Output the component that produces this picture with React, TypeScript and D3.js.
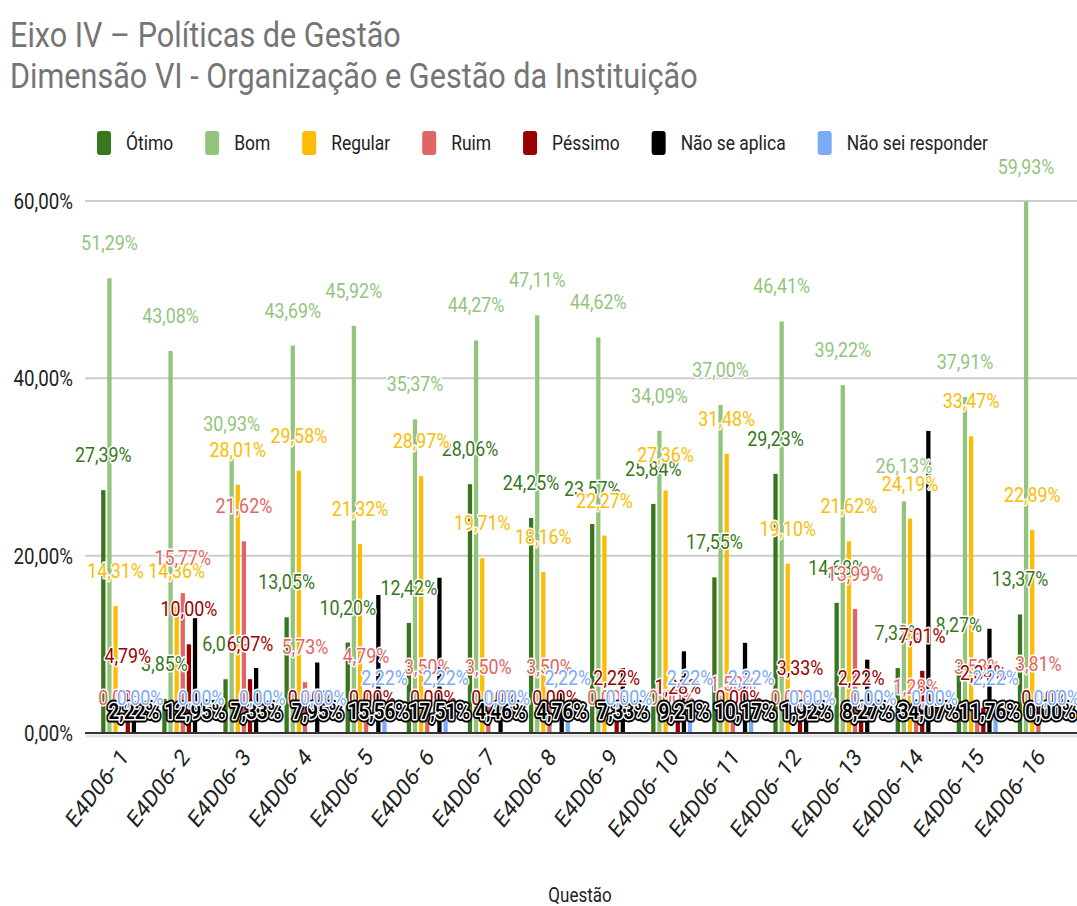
import * as React from 'react'
import { scaleBand, scaleLinear } from 'd3'

const categories = [
  'E4D06- 1', 'E4D06- 2', 'E4D06- 3', 'E4D06- 4', 'E4D06- 5', 'E4D06- 6', 'E4D06- 7', 'E4D06- 8',
  'E4D06- 9', 'E4D06- 10', 'E4D06- 11', 'E4D06- 12', 'E4D06- 13', 'E4D06- 14', 'E4D06- 15', 'E4D06- 16',
]
const seriesNames = ['Ótimo', 'Bom', 'Regular', 'Ruim', 'Péssimo', 'Não se aplica', 'Não sei responder']
const seriesColors = ['#38761d', '#93c47d', '#fbbc04', '#e06666', '#990000', '#000000', '#7baaf7']

const otimo = [27.39, 3.85, 6.06, 13.05, 10.2, 12.42, 28.06, 24.25, 23.57, 25.84, 17.55, 29.23, 14.68, 7.32, 8.27, 13.37]
const bom = [51.29, 43.08, 30.93, 43.69, 45.92, 35.37, 44.27, 47.11, 44.62, 34.09, 37.0, 46.41, 39.22, 26.13, 37.91, 59.93]
const regular = [14.31, 14.36, 28.01, 29.58, 21.32, 28.97, 19.71, 18.16, 22.27, 27.36, 31.48, 19.1, 21.62, 24.19, 33.47, 22.89]
const ruim = [0, 15.77, 21.62, 5.73, 4.79, 3.5, 3.5, 3.5, 0, 0, 1.58, 0, 13.99, 1.28, 3.53, 3.81]
const pessimo = [4.79, 10.0, 6.07, 0, 0, 0, 0, 0, 2.22, 1.28, 0, 3.33, 2.22, 7.01, 2.84, 0]
const naoSeAplica = [2.22, 12.95, 7.33, 7.95, 15.56, 17.51, 4.46, 4.76, 7.33, 9.21, 10.17, 1.92, 8.27, 34.07, 11.76, 0]
const naoSei = [0, 0, 0, 0, 2.22, 2.22, 0, 2.22, 0, 2.22, 2.22, 0, 0, 0, 2.22, 0]
const yTicks = [0, 20, 40, 60]

const seriesValues = [otimo, bom, regular, ruim, pessimo, naoSeAplica, naoSei]

const W = 1077
const H = 906
const SX = 0.85 // the reference is squeezed horizontally
const FONT = 'Roboto, "Noto Sans", sans-serif'

const fmt = (v: number) => v.toFixed(2).replace('.', ',') + '%'

const measure = (t: string, size: number) => {
  const ctx = document.createElement('canvas').getContext('2d')
  if (!ctx) return t.length * size * 0.5
  ctx.font = `${size}px Roboto`
  return ctx.measureText(t).width
}

function Txt({ x, y, children, ...rest }: any) {
  return (
    <text transform={`translate(${x},${y}) scale(${SX},1)`} {...rest}>
      {children}
    </text>
  )
}

export default function App() {
  const x0 = scaleBand().domain(categories).range([85, 1075]).paddingInner(0).paddingOuter(0.1)
  const x1 = scaleBand().domain(seriesNames).range([-20.5, 20.5]).paddingInner(0.3)
  const y = scaleLinear().domain([0, 60]).range([733, 201])

  // legend layout
  let lx = 97
  const legend = seriesNames.map((name, i) => {
    const item = { name, color: seriesColors[i], x: lx }
    lx = lx + 30 + measure(name, 20.5) * SX + 31
    return item
  })

  return (
    <svg width={W} height={H} style={{ position: 'absolute', left: 0, top: 0, background: '#fff' }} fontFamily={FONT}>
      <rect width={W} height={H} fill="#fff" />
      <Txt x={10} y={47} fontSize={36} fill="#757575">Eixo IV – Políticas de Gestão</Txt>
      <Txt x={10} y={88} fontSize={36} fill="#757575">Dimensão VI - Organização e Gestão da Instituição</Txt>

      {legend.map((l) => (
        <g key={l.name}>
          <rect x={l.x} y={131} width={14} height={24} rx={3} fill={l.color} />
          <Txt x={l.x + 29} y={150} fontSize={20.5} fill="#222">{l.name}</Txt>
        </g>
      ))}

      {yTicks.map((t) => (
        <g key={t}>
          {t > 0 && <line x1={85} x2={W} y1={y(t)} y2={y(t)} stroke="#cccccc" strokeWidth={2} />}
          <Txt x={73} y={y(t) + 8} fontSize={22} fill="#222" textAnchor="end">{fmt(t)}</Txt>
        </g>
      ))}

      {categories.map((c, ci) => (
        <g key={c} transform={`translate(${x0(c)! + x0.bandwidth() / 2},0)`}>
          {seriesNames.map((s, si) => {
            const v = seriesValues[si][ci]
            return (
              <rect key={s} x={x1(s)!} width={x1.bandwidth()} y={y(v)} height={y(0) - y(v)} fill={seriesColors[si]} />
            )
          })}
        </g>
      ))}

      <line x1={85} x2={W} y1={y(0) + 3} y2={y(0) + 3} stroke="#e6e6e6" strokeWidth={3} />
      <line x1={85} x2={W} y1={y(0)} y2={y(0)} stroke="#333" strokeWidth={2} />

      {seriesNames.map((s, si) =>
        categories.map((c, ci) => {
          const v = seriesValues[si][ci]
          const cx = x0(c)! + x0.bandwidth() / 2 + x1(s)! + x1.bandwidth() / 2
          if (si === 5) {
            return (
              <g key={s + c}>
                <Txt x={cx} y={y(0) - 14} fontSize={22} fontWeight="bold" textAnchor="middle" fill="#000" stroke="#000" strokeWidth={7} strokeLinejoin="round">{fmt(v)}</Txt>
                <Txt x={cx} y={y(0) - 14} fontSize={22} fontWeight="bold" textAnchor="middle" fill="#000" stroke="#fff" strokeWidth={3} strokeLinejoin="round" style={{ paintOrder: 'stroke' }}>{fmt(v)}</Txt>
              </g>
            )
          }
          return (
            <Txt key={s + c} x={cx} y={y(v) - 28} fontSize={21} textAnchor="middle" fill={seriesColors[si]} stroke="#fff" strokeWidth={3} strokeLinejoin="round" style={{ paintOrder: 'stroke' }}>{fmt(v)}</Txt>
          )
        })
      )}

      {categories.map((c) => (
        <text key={c} transform={`translate(${x0(c)! + x0.bandwidth() / 2 + 8},${758}) scale(${SX},1) rotate(-48)`} fontSize={24} fill="#222" textAnchor="end">{c}</text>
      ))}

      <Txt x={580} y={902} fontSize={20} fill="#222" textAnchor="middle">Questão</Txt>
    </svg>
  )
}
